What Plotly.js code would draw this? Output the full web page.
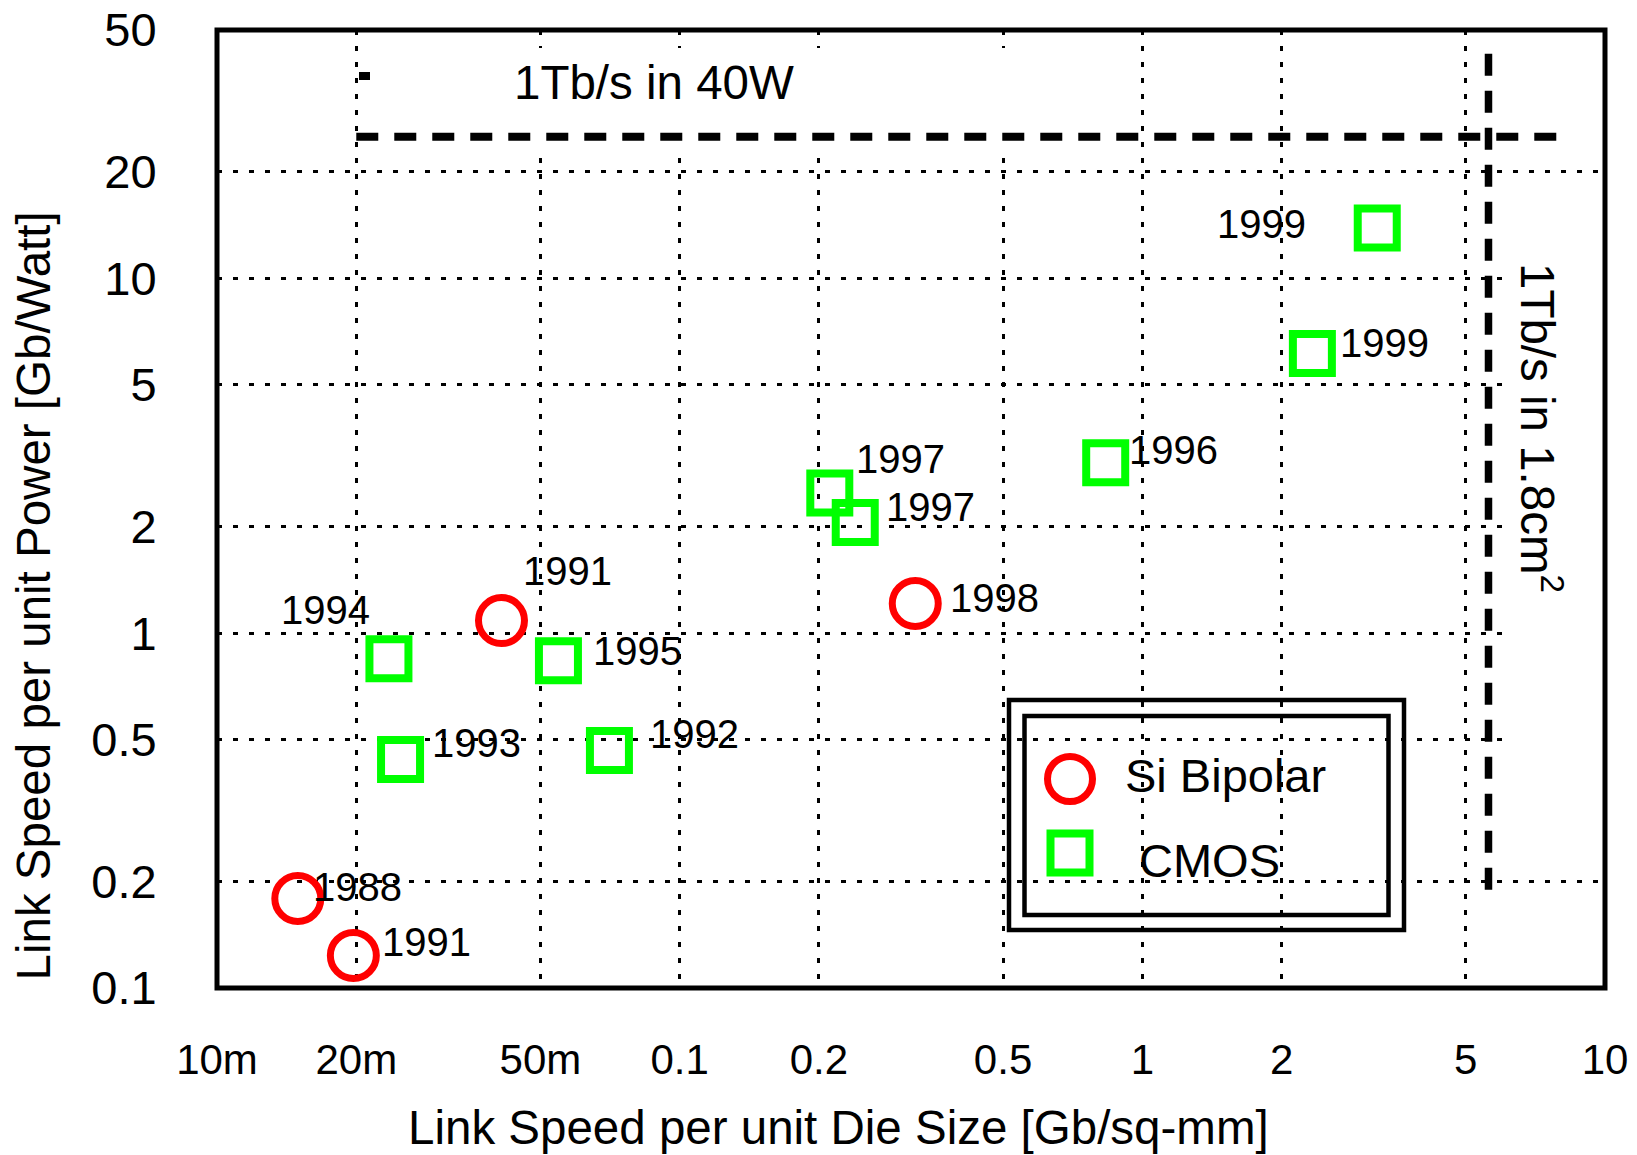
<!DOCTYPE html>
<html>
<head>
<meta charset="utf-8">
<script src="https://cdn.plot.ly/plotly-3.0.1.min.js"></script>
<style>html,body{margin:0;padding:0;background:#fff;}#chart{width:1637px;height:1155px;}</style>
</head>
<body>
<div id="chart"></div>
<script>
// ---------- data ----------
const siX    = [0.01495, 0.01971, 0.0412, 0.323];
const siY    = [0.1787, 0.1235, 1.084, 1.211];
const siYear = ['1988', '1991', '1991', '1998'];

const cmosX    = [0.02353, 0.02493, 0.0547, 0.0705, 0.2111, 0.2396, 0.8334, 2.331, 3.219];
const cmosY    = [0.847, 0.4403, 0.836, 0.4667, 2.480, 2.048, 3.017, 6.13, 13.83];
const cmosYear = ['1994', '1993', '1995', '1992', '1997', '1997', '1996', '1999', '1999'];

const xTickVals = [0.01, 0.02, 0.05, 0.1, 0.2, 0.5, 1, 2, 5, 10];
const xTickText = ['10m', '20m', '50m', '0.1', '0.2', '0.5', '1', '2', '5', '10'];
const yTickVals = [0.1, 0.2, 0.5, 1, 2, 5, 10, 20, 50];
const yTickText = ['0.1', '0.2', '0.5', '1', '2', '5', '10', '20', '50'];

// limit lines: 1 Tb/s in 40 W  -> 25 Gb/W ; 1 Tb/s in 1.8 cm^2 -> ~5.6 Gb/mm^2
const powerLimit = 25;
const powerLineX = [0.02, 8.4];
const areaLimit = 5.6;
const areaLineY = [0.189, 43.7];

// label pixel offsets (styling)
const siLabelOff   = [[60, -12], [73, -13.5], [66, -50], [79, -6]];
const cmosLabelOff = [[-63, -48.5], [76, -17], [79, -10], [85, -17], [71, -34.5], [75, -16], [68, -13], [72, -11], [-116, -4.5]];

// ---------- layout helpers ----------
const FONT = 'Liberation Sans, Arial, Helvetica, sans-serif';
const L = 217, R = 32, T = 30, B = 167, W = 1637, H = 1155;
const PW = W - L - R, PH = H - T - B;
const xp = px => (px - L) / PW;
const yp = py => (H - B - py) / PH;

const traces = [
  {
    x: powerLineX, y: [powerLimit, powerLimit], mode: 'lines', hoverinfo: 'skip',
    line: {color: 'black', width: 8, dash: '22px,16px'}
  },
  {
    x: [areaLimit, areaLimit], y: areaLineY, mode: 'lines', hoverinfo: 'skip',
    line: {color: 'black', width: 7.5, dash: '22px,15px'}
  },
  {
    x: siX, y: siY, mode: 'markers', name: 'Si Bipolar', cliponaxis: false,
    marker: {symbol: 'circle-open', size: 46, color: '#ff0000', line: {width: 7, color: '#ff0000'}}
  },
  {
    x: cmosX, y: cmosY, mode: 'markers', name: 'CMOS', cliponaxis: false,
    marker: {symbol: 'square-open', size: 39, color: '#00ff00', line: {width: 8, color: '#00ff00'}}
  }
];

const annotations = [];
function addLabels(xs, ys, txt, off) {
  xs.forEach((x, i) => {
    annotations.push({
      x: Math.log10(x), y: Math.log10(ys[i]), xref: 'x', yref: 'y',
      text: txt[i], showarrow: false, xanchor: 'center', yanchor: 'middle',
      xshift: off[i][0], yshift: -off[i][1],
      font: {family: FONT, size: 40, color: 'black'}
    });
  });
}
addLabels(siX, siY, siYear, siLabelOff);
addLabels(cmosX, cmosY, cmosYear, cmosLabelOff);

annotations.push(
  {xref: 'paper', yref: 'paper', x: xp(654), y: yp(82.5), text: '1Tb/s in 40W', showarrow: false,
   xanchor: 'center', yanchor: 'middle', font: {family: FONT, size: 47.5, color: 'black'}},
  {xref: 'paper', yref: 'paper', x: xp(1541), y: yp(428), text: '1Tb/s in 1.8cm<sup>2</sup>', showarrow: false,
   textangle: 90, xanchor: 'center', yanchor: 'middle', font: {family: FONT, size: 47.5, color: 'black'}},
  {xref: 'paper', yref: 'paper', x: xp(1123), y: yp(775), text: 'Si Bipolar', showarrow: false,
   xanchor: 'left', yanchor: 'middle', font: {family: FONT, size: 47, color: 'black'}},
  {xref: 'paper', yref: 'paper', x: xp(1137), y: yp(860), text: 'CMOS', showarrow: false,
   xanchor: 'left', yanchor: 'middle', font: {family: FONT, size: 47, color: 'black'}},
  {xref: 'paper', yref: 'paper', x: xp(838.5), y: yp(1127), text: 'Link Speed per unit Die Size [Gb/sq-mm]', showarrow: false,
   xanchor: 'center', yanchor: 'middle', font: {family: FONT, size: 47.5, color: 'black'}},
  {xref: 'paper', yref: 'paper', x: xp(33.5), y: yp(596), text: 'Link Speed per unit Power [Gb/Watt]', showarrow: false,
   textangle: -90, xanchor: 'center', yanchor: 'middle', font: {family: FONT, size: 47.5, color: 'black'}}
);

const shapes = [
  // white boxes behind the limit texts (hide gridlines), split to leave the dashed line visible
  {type: 'rect', xref: 'paper', yref: 'paper', x0: xp(400), x1: xp(1100), y0: yp(132), y1: yp(48),
   fillcolor: 'white', line: {width: 0}, layer: 'above'},
  {type: 'rect', xref: 'paper', yref: 'paper', x0: xp(400), x1: xp(1100), y0: yp(155), y1: yp(142),
   fillcolor: 'white', line: {width: 0}, layer: 'above'},
  {type: 'rect', xref: 'paper', yref: 'paper', x0: xp(1513), x1: xp(1604), y0: yp(760), y1: yp(255),
   fillcolor: 'white', line: {width: 0}, layer: 'above'},
  // small mark
  {type: 'rect', xref: 'paper', yref: 'paper', x0: xp(359), x1: xp(370), y0: yp(80), y1: yp(72),
   fillcolor: 'black', line: {width: 0}, layer: 'above'},
  // legend boxes
  {type: 'rect', xref: 'paper', yref: 'paper', x0: xp(1009), x1: xp(1404), y0: yp(930), y1: yp(700),
   line: {color: 'black', width: 4.5}, fillcolor: 'rgba(0,0,0,0)', layer: 'above'},
  {type: 'rect', xref: 'paper', yref: 'paper', x0: xp(1024.5), x1: xp(1388.5), y0: yp(915), y1: yp(716),
   line: {color: 'black', width: 4.5}, fillcolor: 'rgba(0,0,0,0)', layer: 'above'},
  // legend symbols
  {type: 'circle', xref: 'paper', yref: 'paper', x0: xp(1070 - 22.5), x1: xp(1070 + 22.5), y0: yp(779 + 22.5), y1: yp(779 - 22.5),
   line: {color: '#ff0000', width: 7}, fillcolor: 'rgba(0,0,0,0)', layer: 'above'},
  {type: 'rect', xref: 'paper', yref: 'paper', x0: xp(1070 - 19.5), x1: xp(1070 + 19.5), y0: yp(853 + 19.5), y1: yp(853 - 19.5),
   line: {color: '#00ff00', width: 8}, fillcolor: 'rgba(0,0,0,0)', layer: 'above'},
  // frame
  {type: 'rect', xref: 'paper', yref: 'paper', x0: 0, x1: 1, y0: 0, y1: 1,
   line: {color: 'black', width: 5}, fillcolor: 'rgba(0,0,0,0)', layer: 'above'}
];

const axisCommon = {
  type: 'log', showgrid: true, gridcolor: 'black', gridwidth: 3, griddash: '5px,11px',
  zeroline: false, showline: false, ticks: 'outside', tickcolor: 'rgba(0,0,0,0)',
  tickmode: 'array', fixedrange: true
};

const layout = {
  width: W, height: H,
  margin: {l: L, r: R, t: T, b: B, pad: 0},
  paper_bgcolor: 'white', plot_bgcolor: 'white',
  showlegend: false,
  font: {family: FONT, color: 'black'},
  xaxis: Object.assign({}, axisCommon, {
    range: [-2, 1], tickvals: xTickVals, ticktext: xTickText, ticklen: 35,
    tickfont: {family: FONT, size: 42, color: 'black'}
  }),
  yaxis: Object.assign({}, axisCommon, {
    range: [-1, Math.log10(50)], tickvals: yTickVals, ticktext: yTickText, ticklen: 50,
    tickfont: {family: FONT, size: 47, color: 'black'}
  }),
  shapes: shapes,
  annotations: annotations
};

Plotly.newPlot('chart', traces, layout, {displayModeBar: false, staticPlot: true});
</script>
</body>
</html>
